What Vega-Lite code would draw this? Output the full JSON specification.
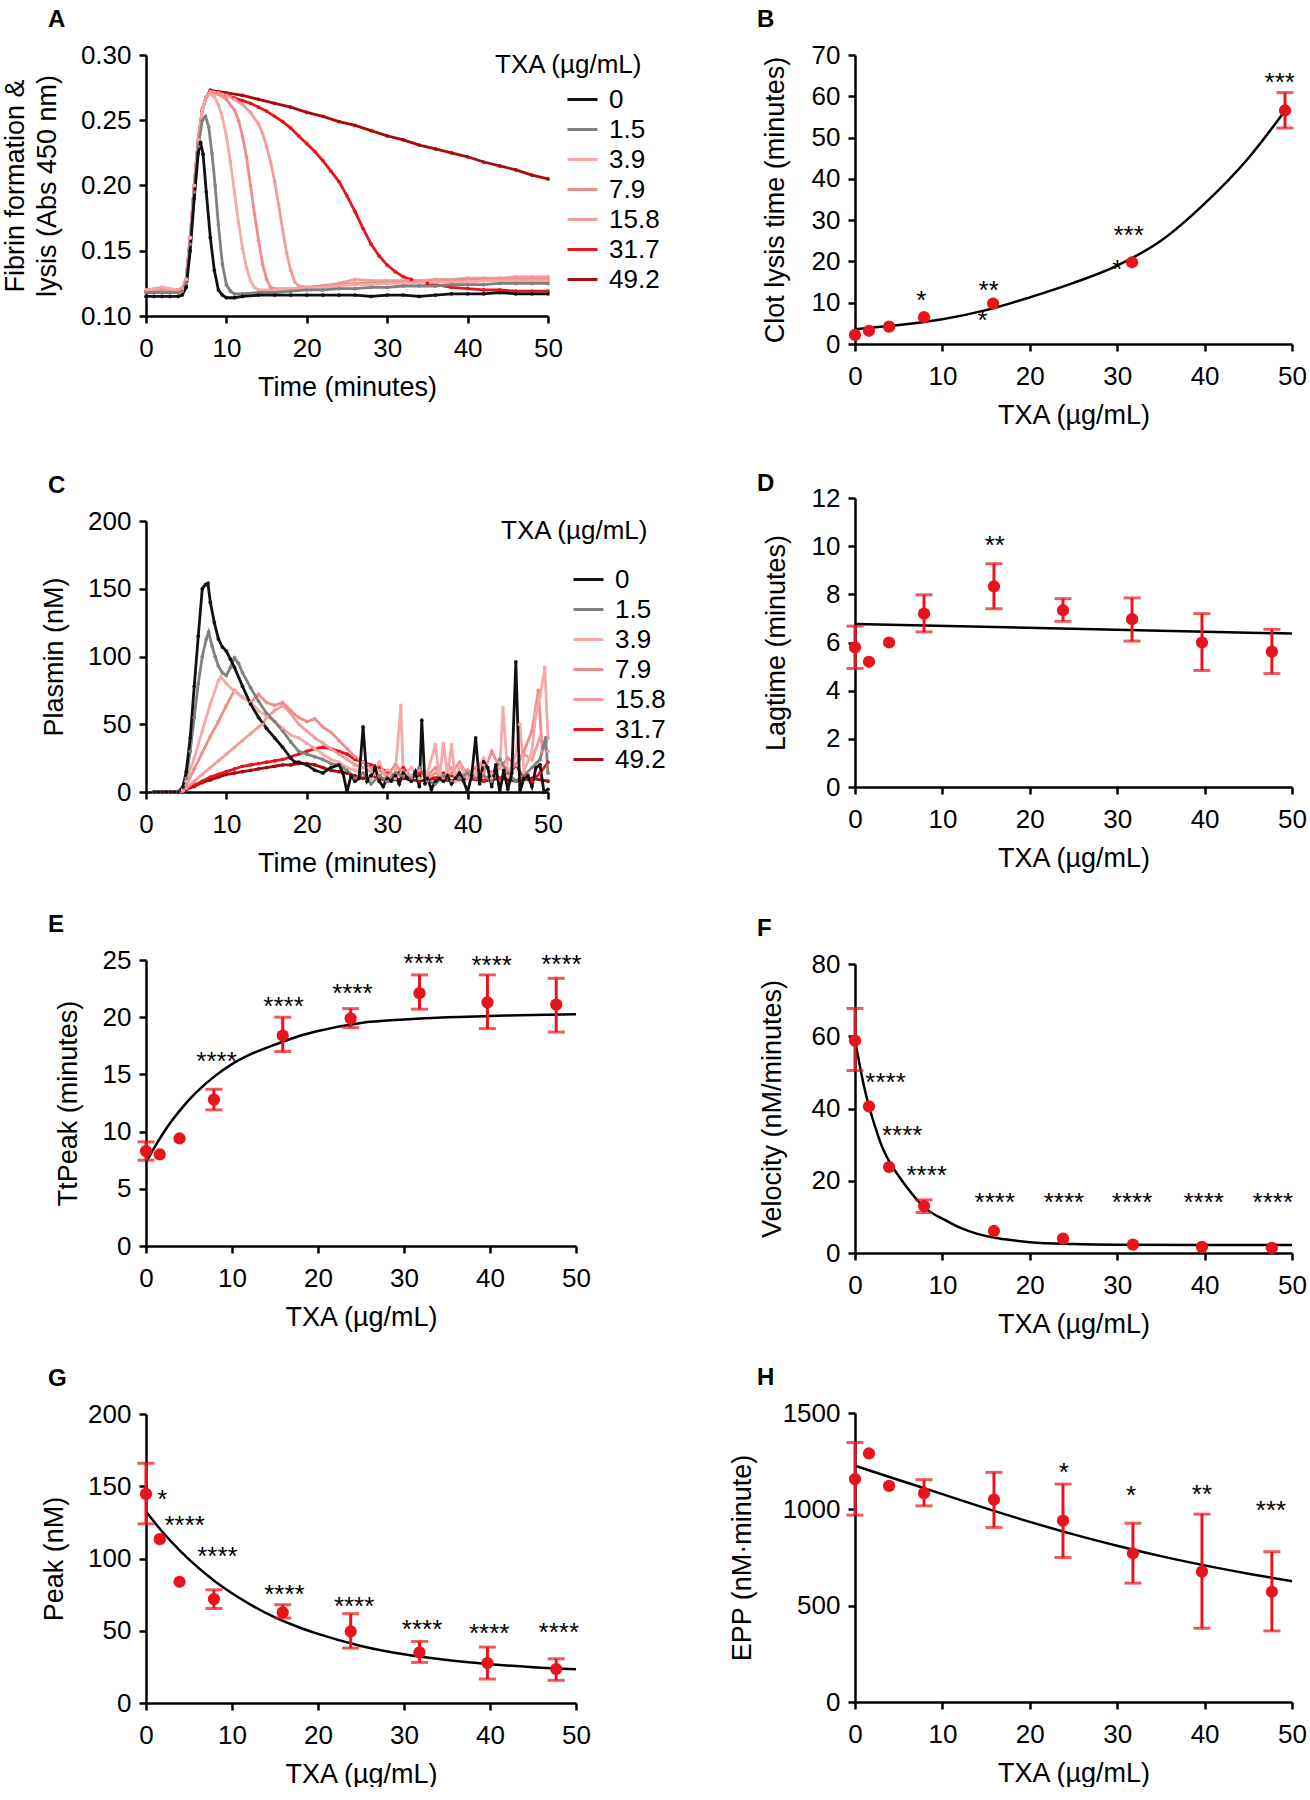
{
"$schema":"https://vega.github.io/schema/vega-lite/v6.json",
"background":"white",
"padding":{"left":1,"top":8,"right":0,"bottom":0},
"config":{
 "font":"Liberation Sans",
 "view":{"stroke":null},
 "axis":{"grid":false,"domainColor":"#000","domainWidth":2.5,"tickColor":"#000","tickWidth":2.5,"tickSize":7,"labelFont":"Liberation Sans","labelFontSize":26,"labelColor":"#000","titleFont":"Liberation Sans","titleFontSize":27,"titleFontWeight":"normal","titleColor":"#000","labelFlush":false,"labelOverlap":false,"labelBound":false},
 "axisX":{"labelPadding":12,"titleY":71,"titleBaseline":"middle"},
 "axisY":{"labelPadding":8,"titleBaseline":"middle"},
 "title":{"fontSize":24,"fontWeight":"bold","color":"#000","font":"Liberation Sans","anchor":"start","frame":"group","offset":10}
},
"datasets":{
"fibA":[
{"t":0,"v":0.119,"s":"49.2"},{"t":2,"v":0.12,"s":"49.2"},{"t":4,"v":0.12,"s":"49.2"},{"t":4.5,"v":0.121,"s":"49.2"},{"t":5,"v":0.128,"s":"49.2"},{"t":5.5,"v":0.16,"s":"49.2"},{"t":6,"v":0.2,"s":"49.2"},{"t":6.5,"v":0.235,"s":"49.2"},{"t":7,"v":0.258,"s":"49.2"},{"t":7.5,"v":0.268,"s":"49.2"},{"t":8,"v":0.273,"s":"49.2"},{"t":9,"v":0.272,"s":"49.2"},{"t":10,"v":0.271,"s":"49.2"},{"t":12,"v":0.269,"s":"49.2"},{"t":14,"v":0.266,"s":"49.2"},{"t":16,"v":0.263,"s":"49.2"},{"t":18,"v":0.26,"s":"49.2"},{"t":20,"v":0.256,"s":"49.2"},{"t":22,"v":0.253,"s":"49.2"},{"t":24,"v":0.249,"s":"49.2"},{"t":26,"v":0.246,"s":"49.2"},{"t":28,"v":0.242,"s":"49.2"},{"t":30,"v":0.238,"s":"49.2"},{"t":32,"v":0.235,"s":"49.2"},{"t":34,"v":0.231,"s":"49.2"},{"t":36,"v":0.228,"s":"49.2"},{"t":38,"v":0.225,"s":"49.2"},{"t":40,"v":0.222,"s":"49.2"},{"t":42,"v":0.218,"s":"49.2"},{"t":44,"v":0.215,"s":"49.2"},{"t":46,"v":0.212,"s":"49.2"},{"t":48,"v":0.208,"s":"49.2"},{"t":50,"v":0.205,"s":"49.2"},
{"t":0,"v":0.119,"s":"31.7"},{"t":2,"v":0.12,"s":"31.7"},{"t":4,"v":0.12,"s":"31.7"},{"t":4.5,"v":0.121,"s":"31.7"},{"t":5,"v":0.128,"s":"31.7"},{"t":5.5,"v":0.16,"s":"31.7"},{"t":6,"v":0.2,"s":"31.7"},{"t":6.5,"v":0.235,"s":"31.7"},{"t":7,"v":0.258,"s":"31.7"},{"t":7.5,"v":0.268,"s":"31.7"},{"t":8,"v":0.272,"s":"31.7"},{"t":9,"v":0.271,"s":"31.7"},{"t":10,"v":0.269,"s":"31.7"},{"t":11,"v":0.267,"s":"31.7"},{"t":12,"v":0.265,"s":"31.7"},{"t":13,"v":0.263,"s":"31.7"},{"t":14,"v":0.26,"s":"31.7"},{"t":15,"v":0.257,"s":"31.7"},{"t":16,"v":0.253,"s":"31.7"},{"t":17,"v":0.249,"s":"31.7"},{"t":18,"v":0.244,"s":"31.7"},{"t":19,"v":0.238,"s":"31.7"},{"t":20,"v":0.232,"s":"31.7"},{"t":21,"v":0.226,"s":"31.7"},{"t":22,"v":0.219,"s":"31.7"},{"t":23,"v":0.211,"s":"31.7"},{"t":24,"v":0.203,"s":"31.7"},{"t":25,"v":0.192,"s":"31.7"},{"t":26,"v":0.18,"s":"31.7"},{"t":27,"v":0.167,"s":"31.7"},{"t":28,"v":0.155,"s":"31.7"},{"t":29,"v":0.146,"s":"31.7"},{"t":30,"v":0.139,"s":"31.7"},{"t":31,"v":0.134,"s":"31.7"},{"t":32,"v":0.13,"s":"31.7"},{"t":33,"v":0.128,"s":"31.7"},{"t":34,"v":0.126,"s":"31.7"},{"t":35,"v":0.125,"s":"31.7"},{"t":36,"v":0.124,"s":"31.7"},{"t":38,"v":0.122,"s":"31.7"},{"t":40,"v":0.121,"s":"31.7"},{"t":42,"v":0.12,"s":"31.7"},{"t":44,"v":0.12,"s":"31.7"},{"t":46,"v":0.119,"s":"31.7"},{"t":48,"v":0.119,"s":"31.7"},{"t":50,"v":0.119,"s":"31.7"},
{"t":0,"v":0.119,"s":"15.8"},{"t":2,"v":0.12,"s":"15.8"},{"t":4,"v":0.12,"s":"15.8"},{"t":4.5,"v":0.121,"s":"15.8"},{"t":5,"v":0.128,"s":"15.8"},{"t":5.5,"v":0.16,"s":"15.8"},{"t":6,"v":0.2,"s":"15.8"},{"t":6.5,"v":0.235,"s":"15.8"},{"t":7,"v":0.258,"s":"15.8"},{"t":7.5,"v":0.268,"s":"15.8"},{"t":8,"v":0.272,"s":"15.8"},{"t":9,"v":0.271,"s":"15.8"},{"t":10,"v":0.269,"s":"15.8"},{"t":11,"v":0.266,"s":"15.8"},{"t":12,"v":0.262,"s":"15.8"},{"t":13,"v":0.256,"s":"15.8"},{"t":14,"v":0.247,"s":"15.8"},{"t":14.5,"v":0.24,"s":"15.8"},{"t":15,"v":0.23,"s":"15.8"},{"t":15.5,"v":0.218,"s":"15.8"},{"t":16,"v":0.203,"s":"15.8"},{"t":16.5,"v":0.185,"s":"15.8"},{"t":17,"v":0.166,"s":"15.8"},{"t":17.5,"v":0.148,"s":"15.8"},{"t":18,"v":0.135,"s":"15.8"},{"t":18.5,"v":0.126,"s":"15.8"},{"t":19,"v":0.123,"s":"15.8"},{"t":20,"v":0.122,"s":"15.8"},{"t":22,"v":0.123,"s":"15.8"},{"t":24,"v":0.125,"s":"15.8"},{"t":26,"v":0.128,"s":"15.8"},{"t":28,"v":0.127,"s":"15.8"},{"t":30,"v":0.127,"s":"15.8"},{"t":32,"v":0.127,"s":"15.8"},{"t":34,"v":0.127,"s":"15.8"},{"t":36,"v":0.128,"s":"15.8"},{"t":38,"v":0.128,"s":"15.8"},{"t":40,"v":0.129,"s":"15.8"},{"t":42,"v":0.129,"s":"15.8"},{"t":44,"v":0.129,"s":"15.8"},{"t":46,"v":0.13,"s":"15.8"},{"t":48,"v":0.13,"s":"15.8"},{"t":50,"v":0.13,"s":"15.8"},
{"t":0,"v":0.119,"s":"7.9"},{"t":2,"v":0.12,"s":"7.9"},{"t":4,"v":0.12,"s":"7.9"},{"t":4.5,"v":0.121,"s":"7.9"},{"t":5,"v":0.128,"s":"7.9"},{"t":5.5,"v":0.16,"s":"7.9"},{"t":6,"v":0.2,"s":"7.9"},{"t":6.5,"v":0.235,"s":"7.9"},{"t":7,"v":0.258,"s":"7.9"},{"t":7.5,"v":0.268,"s":"7.9"},{"t":8,"v":0.271,"s":"7.9"},{"t":9,"v":0.27,"s":"7.9"},{"t":10,"v":0.266,"s":"7.9"},{"t":11,"v":0.258,"s":"7.9"},{"t":11.5,"v":0.25,"s":"7.9"},{"t":12,"v":0.238,"s":"7.9"},{"t":12.5,"v":0.222,"s":"7.9"},{"t":13,"v":0.2,"s":"7.9"},{"t":13.5,"v":0.178,"s":"7.9"},{"t":14,"v":0.158,"s":"7.9"},{"t":14.5,"v":0.14,"s":"7.9"},{"t":15,"v":0.128,"s":"7.9"},{"t":15.5,"v":0.122,"s":"7.9"},{"t":16,"v":0.121,"s":"7.9"},{"t":18,"v":0.121,"s":"7.9"},{"t":20,"v":0.122,"s":"7.9"},{"t":22,"v":0.123,"s":"7.9"},{"t":24,"v":0.124,"s":"7.9"},{"t":26,"v":0.125,"s":"7.9"},{"t":28,"v":0.125,"s":"7.9"},{"t":30,"v":0.126,"s":"7.9"},{"t":32,"v":0.126,"s":"7.9"},{"t":34,"v":0.126,"s":"7.9"},{"t":36,"v":0.127,"s":"7.9"},{"t":38,"v":0.127,"s":"7.9"},{"t":40,"v":0.128,"s":"7.9"},{"t":42,"v":0.128,"s":"7.9"},{"t":44,"v":0.128,"s":"7.9"},{"t":46,"v":0.128,"s":"7.9"},{"t":48,"v":0.128,"s":"7.9"},{"t":50,"v":0.128,"s":"7.9"},
{"t":0,"v":0.12,"s":"3.9"},{"t":1,"v":0.121,"s":"3.9"},{"t":2,"v":0.122,"s":"3.9"},{"t":3,"v":0.121,"s":"3.9"},{"t":4,"v":0.12,"s":"3.9"},{"t":4.5,"v":0.121,"s":"3.9"},{"t":5,"v":0.128,"s":"3.9"},{"t":5.5,"v":0.16,"s":"3.9"},{"t":6,"v":0.2,"s":"3.9"},{"t":6.5,"v":0.235,"s":"3.9"},{"t":7,"v":0.258,"s":"3.9"},{"t":7.5,"v":0.268,"s":"3.9"},{"t":8,"v":0.27,"s":"3.9"},{"t":8.5,"v":0.268,"s":"3.9"},{"t":9,"v":0.262,"s":"3.9"},{"t":9.5,"v":0.252,"s":"3.9"},{"t":10,"v":0.238,"s":"3.9"},{"t":10.5,"v":0.218,"s":"3.9"},{"t":11,"v":0.195,"s":"3.9"},{"t":11.5,"v":0.172,"s":"3.9"},{"t":12,"v":0.152,"s":"3.9"},{"t":12.5,"v":0.137,"s":"3.9"},{"t":13,"v":0.127,"s":"3.9"},{"t":13.5,"v":0.122,"s":"3.9"},{"t":14,"v":0.12,"s":"3.9"},{"t":16,"v":0.12,"s":"3.9"},{"t":18,"v":0.121,"s":"3.9"},{"t":20,"v":0.121,"s":"3.9"},{"t":22,"v":0.122,"s":"3.9"},{"t":24,"v":0.123,"s":"3.9"},{"t":26,"v":0.124,"s":"3.9"},{"t":28,"v":0.124,"s":"3.9"},{"t":30,"v":0.125,"s":"3.9"},{"t":32,"v":0.125,"s":"3.9"},{"t":34,"v":0.125,"s":"3.9"},{"t":36,"v":0.126,"s":"3.9"},{"t":38,"v":0.126,"s":"3.9"},{"t":40,"v":0.126,"s":"3.9"},{"t":42,"v":0.127,"s":"3.9"},{"t":44,"v":0.127,"s":"3.9"},{"t":46,"v":0.127,"s":"3.9"},{"t":48,"v":0.127,"s":"3.9"},{"t":50,"v":0.127,"s":"3.9"},
{"t":0,"v":0.118,"s":"1.5"},{"t":1,"v":0.118,"s":"1.5"},{"t":2,"v":0.118,"s":"1.5"},{"t":3,"v":0.118,"s":"1.5"},{"t":4,"v":0.118,"s":"1.5"},{"t":4.5,"v":0.119,"s":"1.5"},{"t":5,"v":0.125,"s":"1.5"},{"t":5.5,"v":0.155,"s":"1.5"},{"t":6,"v":0.195,"s":"1.5"},{"t":6.5,"v":0.23,"s":"1.5"},{"t":7,"v":0.25,"s":"1.5"},{"t":7.4,"v":0.253,"s":"1.5"},{"t":7.8,"v":0.245,"s":"1.5"},{"t":8.2,"v":0.225,"s":"1.5"},{"t":8.6,"v":0.2,"s":"1.5"},{"t":9,"v":0.17,"s":"1.5"},{"t":9.5,"v":0.14,"s":"1.5"},{"t":10,"v":0.124,"s":"1.5"},{"t":10.5,"v":0.119,"s":"1.5"},{"t":11,"v":0.117,"s":"1.5"},{"t":12,"v":0.117,"s":"1.5"},{"t":14,"v":0.118,"s":"1.5"},{"t":16,"v":0.118,"s":"1.5"},{"t":18,"v":0.119,"s":"1.5"},{"t":20,"v":0.12,"s":"1.5"},{"t":22,"v":0.12,"s":"1.5"},{"t":24,"v":0.121,"s":"1.5"},{"t":26,"v":0.121,"s":"1.5"},{"t":28,"v":0.122,"s":"1.5"},{"t":30,"v":0.122,"s":"1.5"},{"t":32,"v":0.123,"s":"1.5"},{"t":34,"v":0.123,"s":"1.5"},{"t":36,"v":0.123,"s":"1.5"},{"t":38,"v":0.124,"s":"1.5"},{"t":40,"v":0.124,"s":"1.5"},{"t":42,"v":0.124,"s":"1.5"},{"t":44,"v":0.125,"s":"1.5"},{"t":46,"v":0.125,"s":"1.5"},{"t":48,"v":0.125,"s":"1.5"},{"t":50,"v":0.125,"s":"1.5"},
{"t":0,"v":0.115,"s":"0"},{"t":1,"v":0.115,"s":"0"},{"t":2,"v":0.115,"s":"0"},{"t":3,"v":0.115,"s":"0"},{"t":4,"v":0.115,"s":"0"},{"t":4.5,"v":0.116,"s":"0"},{"t":5,"v":0.122,"s":"0"},{"t":5.5,"v":0.15,"s":"0"},{"t":6,"v":0.19,"s":"0"},{"t":6.5,"v":0.225,"s":"0"},{"t":6.8,"v":0.233,"s":"0"},{"t":7.1,"v":0.224,"s":"0"},{"t":7.5,"v":0.195,"s":"0"},{"t":8,"v":0.16,"s":"0"},{"t":8.5,"v":0.135,"s":"0"},{"t":9,"v":0.12,"s":"0"},{"t":9.5,"v":0.116,"s":"0"},{"t":10,"v":0.114,"s":"0"},{"t":11,"v":0.114,"s":"0"},{"t":12,"v":0.115,"s":"0"},{"t":14,"v":0.116,"s":"0"},{"t":16,"v":0.116,"s":"0"},{"t":18,"v":0.116,"s":"0"},{"t":20,"v":0.116,"s":"0"},{"t":22,"v":0.116,"s":"0"},{"t":24,"v":0.116,"s":"0"},{"t":26,"v":0.116,"s":"0"},{"t":28,"v":0.115,"s":"0"},{"t":30,"v":0.116,"s":"0"},{"t":32,"v":0.116,"s":"0"},{"t":34,"v":0.115,"s":"0"},{"t":36,"v":0.116,"s":"0"},{"t":38,"v":0.117,"s":"0"},{"t":40,"v":0.117,"s":"0"},{"t":42,"v":0.117,"s":"0"},{"t":44,"v":0.118,"s":"0"},{"t":46,"v":0.117,"s":"0"},{"t":48,"v":0.117,"s":"0"},{"t":50,"v":0.117,"s":"0"}
],
"plasC":[
{"t":1,"p":0,"s":"49.2"},{"t":2,"p":0,"s":"49.2"},{"t":3,"p":0,"s":"49.2"},{"t":4,"p":0,"s":"49.2"},{"t":4.6,"p":1,"s":"49.2"},{"t":5,"p":2,"s":"49.2"},{"t":6,"p":4,"s":"49.2"},{"t":7,"p":7,"s":"49.2"},{"t":8,"p":9,"s":"49.2"},{"t":9,"p":11,"s":"49.2"},{"t":10,"p":13,"s":"49.2"},{"t":11,"p":14,"s":"49.2"},{"t":12,"p":15,"s":"49.2"},{"t":13,"p":16,"s":"49.2"},{"t":14,"p":17,"s":"49.2"},{"t":15,"p":18,"s":"49.2"},{"t":16,"p":19,"s":"49.2"},{"t":17,"p":20,"s":"49.2"},{"t":18,"p":20,"s":"49.2"},{"t":19,"p":21,"s":"49.2"},{"t":20,"p":21,"s":"49.2"},{"t":21,"p":20,"s":"49.2"},{"t":22,"p":18,"s":"49.2"},{"t":23,"p":16,"s":"49.2"},{"t":24,"p":15,"s":"49.2"},{"t":25,"p":14,"s":"49.2"},{"t":26,"p":12,"s":"49.2"},{"t":27,"p":10,"s":"49.2"},{"t":28,"p":12,"s":"49.2"},{"t":29,"p":10,"s":"49.2"},{"t":30,"p":8,"s":"49.2"},{"t":32,"p":10,"s":"49.2"},{"t":34,"p":8,"s":"49.2"},{"t":36,"p":10,"s":"49.2"},{"t":38,"p":8,"s":"49.2"},{"t":40,"p":10,"s":"49.2"},{"t":42,"p":8,"s":"49.2"},{"t":44,"p":10,"s":"49.2"},{"t":46,"p":8,"s":"49.2"},{"t":48,"p":10,"s":"49.2"},{"t":50,"p":8,"s":"49.2"},
{"t":1,"p":0,"s":"31.7"},{"t":2,"p":0,"s":"31.7"},{"t":3,"p":0,"s":"31.7"},{"t":4,"p":0,"s":"31.7"},{"t":4.6,"p":1,"s":"31.7"},{"t":5,"p":2,"s":"31.7"},{"t":6,"p":5,"s":"31.7"},{"t":7,"p":8,"s":"31.7"},{"t":8,"p":11,"s":"31.7"},{"t":9,"p":13,"s":"31.7"},{"t":10,"p":15,"s":"31.7"},{"t":11,"p":17,"s":"31.7"},{"t":12,"p":19,"s":"31.7"},{"t":13,"p":20,"s":"31.7"},{"t":14,"p":21,"s":"31.7"},{"t":15,"p":22,"s":"31.7"},{"t":16,"p":23,"s":"31.7"},{"t":17,"p":24,"s":"31.7"},{"t":18,"p":26,"s":"31.7"},{"t":19,"p":28,"s":"31.7"},{"t":20,"p":30,"s":"31.7"},{"t":21,"p":32,"s":"31.7"},{"t":22,"p":33,"s":"31.7"},{"t":23,"p":32,"s":"31.7"},{"t":24,"p":30,"s":"31.7"},{"t":25,"p":28,"s":"31.7"},{"t":26,"p":24,"s":"31.7"},{"t":27,"p":22,"s":"31.7"},{"t":28,"p":20,"s":"31.7"},{"t":29,"p":18,"s":"31.7"},{"t":30,"p":15,"s":"31.7"},{"t":31,"p":12,"s":"31.7"},{"t":32,"p":18,"s":"31.7"},{"t":33,"p":10,"s":"31.7"},{"t":34,"p":14,"s":"31.7"},{"t":35,"p":12,"s":"31.7"},{"t":36,"p":10,"s":"31.7"},{"t":37,"p":14,"s":"31.7"},{"t":38,"p":12,"s":"31.7"},{"t":39,"p":10,"s":"31.7"},{"t":40,"p":16,"s":"31.7"},{"t":41,"p":12,"s":"31.7"},{"t":42,"p":8,"s":"31.7"},{"t":43,"p":14,"s":"31.7"},{"t":44,"p":10,"s":"31.7"},{"t":45,"p":12,"s":"31.7"},{"t":46,"p":20,"s":"31.7"},{"t":47,"p":10,"s":"31.7"},{"t":48,"p":8,"s":"31.7"},{"t":49,"p":14,"s":"31.7"},{"t":50,"p":22,"s":"31.7"},
{"t":1,"p":0,"s":"15.8"},{"t":2,"p":0,"s":"15.8"},{"t":3,"p":0,"s":"15.8"},{"t":4,"p":0,"s":"15.8"},{"t":4.6,"p":1,"s":"15.8"},{"t":5,"p":3,"s":"15.8"},{"t":6,"p":8,"s":"15.8"},{"t":7,"p":13,"s":"15.8"},{"t":8,"p":18,"s":"15.8"},{"t":9,"p":23,"s":"15.8"},{"t":10,"p":28,"s":"15.8"},{"t":11,"p":33,"s":"15.8"},{"t":12,"p":38,"s":"15.8"},{"t":13,"p":43,"s":"15.8"},{"t":14,"p":48,"s":"15.8"},{"t":14.5,"p":50,"s":"15.8"},{"t":15,"p":55,"s":"15.8"},{"t":16,"p":60,"s":"15.8"},{"t":17,"p":64,"s":"15.8"},{"t":18,"p":58,"s":"15.8"},{"t":19,"p":50,"s":"15.8"},{"t":20,"p":45,"s":"15.8"},{"t":21,"p":40,"s":"15.8"},{"t":22,"p":36,"s":"15.8"},{"t":23,"p":32,"s":"15.8"},{"t":24,"p":28,"s":"15.8"},{"t":25,"p":24,"s":"15.8"},{"t":26,"p":20,"s":"15.8"},{"t":27,"p":18,"s":"15.8"},{"t":28,"p":15,"s":"15.8"},{"t":29,"p":12,"s":"15.8"},{"t":30,"p":16,"s":"15.8"},{"t":31,"p":10,"s":"15.8"},{"t":32,"p":14,"s":"15.8"},{"t":33,"p":12,"s":"15.8"},{"t":34,"p":16,"s":"15.8"},{"t":35,"p":10,"s":"15.8"},{"t":36,"p":14,"s":"15.8"},{"t":37,"p":12,"s":"15.8"},{"t":38,"p":18,"s":"15.8"},{"t":39,"p":10,"s":"15.8"},{"t":40,"p":16,"s":"15.8"},{"t":41,"p":12,"s":"15.8"},{"t":42,"p":20,"s":"15.8"},{"t":43,"p":14,"s":"15.8"},{"t":44,"p":22,"s":"15.8"},{"t":45,"p":16,"s":"15.8"},{"t":46,"p":20,"s":"15.8"},{"t":47,"p":28,"s":"15.8"},{"t":48,"p":24,"s":"15.8"},{"t":49,"p":40,"s":"15.8"},{"t":50,"p":30,"s":"15.8"},
{"t":1,"p":0,"s":"7.9"},{"t":2,"p":0,"s":"7.9"},{"t":3,"p":0,"s":"7.9"},{"t":4,"p":0,"s":"7.9"},{"t":4.6,"p":1,"s":"7.9"},{"t":5,"p":5,"s":"7.9"},{"t":6,"p":17,"s":"7.9"},{"t":7,"p":29,"s":"7.9"},{"t":8,"p":41,"s":"7.9"},{"t":9,"p":52,"s":"7.9"},{"t":10,"p":64,"s":"7.9"},{"t":11,"p":75,"s":"7.9"},{"t":12,"p":70,"s":"7.9"},{"t":13,"p":66,"s":"7.9"},{"t":14,"p":72,"s":"7.9"},{"t":15,"p":66,"s":"7.9"},{"t":16,"p":64,"s":"7.9"},{"t":17,"p":66,"s":"7.9"},{"t":18,"p":60,"s":"7.9"},{"t":19,"p":55,"s":"7.9"},{"t":20,"p":52,"s":"7.9"},{"t":21,"p":54,"s":"7.9"},{"t":22,"p":48,"s":"7.9"},{"t":23,"p":44,"s":"7.9"},{"t":24,"p":38,"s":"7.9"},{"t":25,"p":32,"s":"7.9"},{"t":26,"p":26,"s":"7.9"},{"t":27,"p":22,"s":"7.9"},{"t":28,"p":18,"s":"7.9"},{"t":29,"p":16,"s":"7.9"},{"t":30,"p":12,"s":"7.9"},{"t":31,"p":20,"s":"7.9"},{"t":32,"p":14,"s":"7.9"},{"t":33,"p":10,"s":"7.9"},{"t":34,"p":16,"s":"7.9"},{"t":35,"p":12,"s":"7.9"},{"t":36,"p":18,"s":"7.9"},{"t":37,"p":10,"s":"7.9"},{"t":38,"p":14,"s":"7.9"},{"t":39,"p":22,"s":"7.9"},{"t":40,"p":12,"s":"7.9"},{"t":41,"p":18,"s":"7.9"},{"t":42,"p":14,"s":"7.9"},{"t":43,"p":30,"s":"7.9"},{"t":44,"p":18,"s":"7.9"},{"t":45,"p":25,"s":"7.9"},{"t":46,"p":20,"s":"7.9"},{"t":47,"p":30,"s":"7.9"},{"t":48,"p":45,"s":"7.9"},{"t":48.8,"p":75,"s":"7.9"},{"t":49.3,"p":30,"s":"7.9"},{"t":50,"p":40,"s":"7.9"},
{"t":1,"p":0,"s":"3.9"},{"t":2,"p":0,"s":"3.9"},{"t":3,"p":0,"s":"3.9"},{"t":4,"p":0,"s":"3.9"},{"t":4.6,"p":2,"s":"3.9"},{"t":5,"p":8,"s":"3.9"},{"t":6,"p":25,"s":"3.9"},{"t":7,"p":45,"s":"3.9"},{"t":8,"p":65,"s":"3.9"},{"t":9,"p":82,"s":"3.9"},{"t":9.3,"p":85,"s":"3.9"},{"t":10,"p":80,"s":"3.9"},{"t":11,"p":74,"s":"3.9"},{"t":12,"p":70,"s":"3.9"},{"t":13,"p":66,"s":"3.9"},{"t":14,"p":60,"s":"3.9"},{"t":15,"p":56,"s":"3.9"},{"t":16,"p":52,"s":"3.9"},{"t":17,"p":47,"s":"3.9"},{"t":18,"p":42,"s":"3.9"},{"t":19,"p":40,"s":"3.9"},{"t":20,"p":36,"s":"3.9"},{"t":21,"p":32,"s":"3.9"},{"t":22,"p":28,"s":"3.9"},{"t":23,"p":24,"s":"3.9"},{"t":24,"p":22,"s":"3.9"},{"t":25,"p":18,"s":"3.9"},{"t":26,"p":16,"s":"3.9"},{"t":27,"p":14,"s":"3.9"},{"t":28,"p":10,"s":"3.9"},{"t":29,"p":22,"s":"3.9"},{"t":30,"p":8,"s":"3.9"},{"t":31,"p":14,"s":"3.9"},{"t":31.7,"p":64,"s":"3.9"},{"t":32,"p":12,"s":"3.9"},{"t":33,"p":18,"s":"3.9"},{"t":34,"p":10,"s":"3.9"},{"t":35,"p":14,"s":"3.9"},{"t":36,"p":35,"s":"3.9"},{"t":36.5,"p":10,"s":"3.9"},{"t":37,"p":36,"s":"3.9"},{"t":37.5,"p":12,"s":"3.9"},{"t":38,"p":35,"s":"3.9"},{"t":38.5,"p":8,"s":"3.9"},{"t":39,"p":20,"s":"3.9"},{"t":40,"p":10,"s":"3.9"},{"t":41,"p":14,"s":"3.9"},{"t":42,"p":25,"s":"3.9"},{"t":43,"p":10,"s":"3.9"},{"t":44,"p":18,"s":"3.9"},{"t":44.4,"p":62,"s":"3.9"},{"t":45,"p":12,"s":"3.9"},{"t":46,"p":28,"s":"3.9"},{"t":46.5,"p":50,"s":"3.9"},{"t":47,"p":15,"s":"3.9"},{"t":48,"p":30,"s":"3.9"},{"t":48.5,"p":58,"s":"3.9"},{"t":49,"p":70,"s":"3.9"},{"t":49.6,"p":92,"s":"3.9"},{"t":50,"p":40,"s":"3.9"},
{"t":1,"p":0,"s":"1.5"},{"t":2,"p":0,"s":"1.5"},{"t":3,"p":0,"s":"1.5"},{"t":4,"p":0,"s":"1.5"},{"t":4.6,"p":3,"s":"1.5"},{"t":5,"p":10,"s":"1.5"},{"t":5.5,"p":30,"s":"1.5"},{"t":6,"p":55,"s":"1.5"},{"t":6.5,"p":80,"s":"1.5"},{"t":7,"p":100,"s":"1.5"},{"t":7.5,"p":113,"s":"1.5"},{"t":7.8,"p":118,"s":"1.5"},{"t":8.2,"p":108,"s":"1.5"},{"t":8.6,"p":100,"s":"1.5"},{"t":9,"p":93,"s":"1.5"},{"t":9.5,"p":88,"s":"1.5"},{"t":10,"p":86,"s":"1.5"},{"t":10.5,"p":92,"s":"1.5"},{"t":11,"p":99,"s":"1.5"},{"t":11.5,"p":95,"s":"1.5"},{"t":12,"p":88,"s":"1.5"},{"t":13,"p":77,"s":"1.5"},{"t":14,"p":67,"s":"1.5"},{"t":15,"p":58,"s":"1.5"},{"t":16,"p":52,"s":"1.5"},{"t":17,"p":45,"s":"1.5"},{"t":18,"p":37,"s":"1.5"},{"t":19,"p":30,"s":"1.5"},{"t":20,"p":28,"s":"1.5"},{"t":21,"p":26,"s":"1.5"},{"t":22,"p":24,"s":"1.5"},{"t":23,"p":21,"s":"1.5"},{"t":24,"p":20,"s":"1.5"},{"t":25,"p":16,"s":"1.5"},{"t":26,"p":10,"s":"1.5"},{"t":27,"p":14,"s":"1.5"},{"t":28,"p":6,"s":"1.5"},{"t":29,"p":12,"s":"1.5"},{"t":30,"p":8,"s":"1.5"},{"t":31,"p":14,"s":"1.5"},{"t":32,"p":12,"s":"1.5"},{"t":33,"p":10,"s":"1.5"},{"t":34,"p":18,"s":"1.5"},{"t":35,"p":8,"s":"1.5"},{"t":36,"p":6,"s":"1.5"},{"t":37,"p":12,"s":"1.5"},{"t":38,"p":8,"s":"1.5"},{"t":39,"p":10,"s":"1.5"},{"t":40,"p":14,"s":"1.5"},{"t":41,"p":10,"s":"1.5"},{"t":42,"p":12,"s":"1.5"},{"t":43,"p":8,"s":"1.5"},{"t":44,"p":24,"s":"1.5"},{"t":45,"p":14,"s":"1.5"},{"t":46,"p":8,"s":"1.5"},{"t":47,"p":12,"s":"1.5"},{"t":48,"p":18,"s":"1.5"},{"t":49,"p":24,"s":"1.5"},{"t":49.7,"p":40,"s":"1.5"},{"t":50,"p":14,"s":"1.5"},
{"t":1,"p":0,"s":"0"},{"t":2,"p":0,"s":"0"},{"t":3,"p":0,"s":"0"},{"t":4,"p":0,"s":"0"},{"t":4.6,"p":4,"s":"0"},{"t":5,"p":15,"s":"0"},{"t":5.5,"p":40,"s":"0"},{"t":6,"p":78,"s":"0"},{"t":6.5,"p":115,"s":"0"},{"t":7,"p":150,"s":"0"},{"t":7.4,"p":153,"s":"0"},{"t":7.7,"p":154,"s":"0"},{"t":8,"p":140,"s":"0"},{"t":8.5,"p":125,"s":"0"},{"t":9,"p":113,"s":"0"},{"t":9.5,"p":107,"s":"0"},{"t":10,"p":104,"s":"0"},{"t":10.5,"p":98,"s":"0"},{"t":11,"p":92,"s":"0"},{"t":12,"p":78,"s":"0"},{"t":13,"p":65,"s":"0"},{"t":14,"p":55,"s":"0"},{"t":15,"p":47,"s":"0"},{"t":16,"p":40,"s":"0"},{"t":17,"p":33,"s":"0"},{"t":18,"p":25,"s":"0"},{"t":18.5,"p":22,"s":"0"},{"t":19,"p":22,"s":"0"},{"t":20,"p":20,"s":"0"},{"t":21,"p":16,"s":"0"},{"t":22,"p":14,"s":"0"},{"t":23,"p":18,"s":"0"},{"t":24,"p":20,"s":"0"},{"t":24.5,"p":14,"s":"0"},{"t":25,"p":0,"s":"0"},{"t":25.5,"p":12,"s":"0"},{"t":26,"p":8,"s":"0"},{"t":26.5,"p":10,"s":"0"},{"t":27,"p":48,"s":"0"},{"t":27.5,"p":8,"s":"0"},{"t":28,"p":12,"s":"0"},{"t":28.5,"p":18,"s":"0"},{"t":29,"p":8,"s":"0"},{"t":29.5,"p":4,"s":"0"},{"t":30,"p":10,"s":"0"},{"t":30.5,"p":8,"s":"0"},{"t":31,"p":12,"s":"0"},{"t":31.5,"p":6,"s":"0"},{"t":32,"p":14,"s":"0"},{"t":32.5,"p":10,"s":"0"},{"t":33,"p":8,"s":"0"},{"t":33.5,"p":15,"s":"0"},{"t":34,"p":4,"s":"0"},{"t":34.3,"p":53,"s":"0"},{"t":34.7,"p":6,"s":"0"},{"t":35,"p":10,"s":"0"},{"t":35.5,"p":2,"s":"0"},{"t":36,"p":8,"s":"0"},{"t":36.5,"p":10,"s":"0"},{"t":37,"p":8,"s":"0"},{"t":37.5,"p":12,"s":"0"},{"t":38,"p":6,"s":"0"},{"t":38.5,"p":10,"s":"0"},{"t":39,"p":14,"s":"0"},{"t":39.5,"p":8,"s":"0"},{"t":40,"p":0,"s":"0"},{"t":40.5,"p":12,"s":"0"},{"t":41,"p":40,"s":"0"},{"t":41.5,"p":6,"s":"0"},{"t":42,"p":22,"s":"0"},{"t":42.5,"p":18,"s":"0"},{"t":43,"p":4,"s":"0"},{"t":43.5,"p":20,"s":"0"},{"t":44,"p":0,"s":"0"},{"t":44.5,"p":16,"s":"0"},{"t":45,"p":2,"s":"0"},{"t":45.5,"p":14,"s":"0"},{"t":46,"p":96,"s":"0"},{"t":46.5,"p":0,"s":"0"},{"t":47,"p":10,"s":"0"},{"t":47.5,"p":12,"s":"0"},{"t":48,"p":4,"s":"0"},{"t":48.5,"p":18,"s":"0"},{"t":49,"p":20,"s":"0"},{"t":49.5,"p":0,"s":"0"},{"t":50,"p":2,"s":"0"}
],
"curveB":[{"x":0,"y":3.6},{"x":5,"y":4.6},{"x":10,"y":6},{"x":15,"y":8.2},{"x":20,"y":11.3},{"x":25,"y":14.8},{"x":30,"y":19},{"x":35,"y":25},{"x":40,"y":34},{"x":45,"y":45},{"x":49.2,"y":56.5}],
"ptsB":[{"x":0,"y":2.2},{"x":1.6,"y":3.2},{"x":3.9,"y":4.2},{"x":7.9,"y":6.5},{"x":15.8,"y":9.8},{"x":31.7,"y":19.8},{"x":49.2,"y":56.6,"lo":52.3,"hi":60.9}],
"starsB":[{"x":7.6,"y":12.1,"t":"*"},{"x":15.3,"y":14.5,"t":"**"},{"x":14.6,"y":7.3,"t":"*"},{"x":31.3,"y":27.8,"t":"***"},{"x":30,"y":19.6,"t":"*"},{"x":48.6,"y":64.8,"t":"***"}],
"curveD":[{"x":0,"y":6.77},{"x":50,"y":6.37}],
"ptsD":[{"x":0,"y":5.8,"lo":4.92,"hi":6.68},{"x":1.6,"y":5.2},{"x":3.9,"y":6.0},{"x":7.9,"y":7.2,"lo":6.44,"hi":7.98},{"x":15.9,"y":8.33,"lo":7.4,"hi":9.27},{"x":23.8,"y":7.34,"lo":6.88,"hi":7.82},{"x":31.7,"y":6.97,"lo":6.06,"hi":7.85},{"x":39.7,"y":6.0,"lo":4.84,"hi":7.2},{"x":47.7,"y":5.62,"lo":4.71,"hi":6.55}],
"starsD":[{"x":16,"y":10.3,"t":"**"}],
"curveE":[{"x":0,"y":7.3},{"x":1,"y":8.65},{"x":2,"y":9.86},{"x":3,"y":10.94},{"x":4,"y":11.9},{"x":5,"y":12.77},{"x":6,"y":13.54},{"x":8,"y":14.85},{"x":10,"y":15.9},{"x":12,"y":16.7},{"x":15,"y":17.6},{"x":18,"y":18.4},{"x":20,"y":18.8},{"x":25,"y":19.5},{"x":30,"y":19.8},{"x":35,"y":20.0},{"x":40,"y":20.1},{"x":45,"y":20.2},{"x":50,"y":20.25}],
"ptsE":[{"x":0,"y":8.3,"lo":7.5,"hi":9.1},{"x":1.6,"y":8.0},{"x":3.9,"y":9.4},{"x":7.9,"y":12.8,"lo":11.9,"hi":13.7},{"x":15.9,"y":18.4,"lo":17.0,"hi":20.0},{"x":23.8,"y":19.9,"lo":19.1,"hi":20.75},{"x":31.8,"y":22.1,"lo":20.7,"hi":23.7},{"x":39.7,"y":21.3,"lo":19.0,"hi":23.7},{"x":47.7,"y":21.1,"lo":18.7,"hi":23.4}],
"starsE":[{"x":8.2,"y":16.7,"t":"****"},{"x":16,"y":21.5,"t":"****"},{"x":24,"y":22.6,"t":"****"},{"x":32.3,"y":25.3,"t":"****"},{"x":40.2,"y":25.1,"t":"****"},{"x":48.3,"y":25.2,"t":"****"}],
"curveF":[{"x":0,"y":59},{"x":0.5,"y":52.5},{"x":1,"y":46.5},{"x":1.5,"y":41.5},{"x":2,"y":37.3},{"x":2.5,"y":33.5},{"x":3,"y":30},{"x":4,"y":25},{"x":5,"y":21.3},{"x":6,"y":18},{"x":7,"y":15},{"x":8,"y":12.4},{"x":9,"y":10.8},{"x":10,"y":9.5},{"x":12,"y":7.0},{"x":14,"y":5.3},{"x":16,"y":4.2},{"x":18,"y":3.5},{"x":20,"y":3.0},{"x":25,"y":2.5},{"x":30,"y":2.3},{"x":40,"y":2.2},{"x":50,"y":2.2}],
"ptsF":[{"x":0,"y":58.8,"lo":50.5,"hi":67.7},{"x":1.6,"y":40.6},{"x":3.9,"y":23.8},{"x":7.9,"y":13.0,"lo":11.2,"hi":14.7},{"x":15.9,"y":6.1},{"x":23.8,"y":4.0},{"x":31.8,"y":2.3},{"x":39.7,"y":1.7},{"x":47.7,"y":1.4}],
"starsF":[{"x":3.5,"y":49.1,"t":"****"},{"x":5.4,"y":34.4,"t":"****"},{"x":8.2,"y":23.3,"t":"****"},{"x":16,"y":15.7,"t":"****"},{"x":23.9,"y":15.7,"t":"****"},{"x":31.7,"y":15.7,"t":"****"},{"x":39.9,"y":15.7,"t":"****"},{"x":47.8,"y":15.7,"t":"****"}],
"curveG":[{"x":0,"y":132.5},{"x":2,"y":117.8},{"x":4,"y":105.1},{"x":6,"y":94.0},{"x":8,"y":84.3},{"x":10,"y":75.9},{"x":12,"y":68.6},{"x":15,"y":59.2},{"x":18,"y":51.9},{"x":20,"y":47.8},{"x":25,"y":39.5},{"x":30,"y":33.7},{"x":35,"y":29.7},{"x":40,"y":26.9},{"x":45,"y":24.8},{"x":50,"y":23.4}],
"ptsG":[{"x":0,"y":144.7,"lo":124,"hi":165.9},{"x":1.6,"y":113.4},{"x":3.9,"y":83.9},{"x":7.9,"y":71.9,"lo":65.4,"hi":78.3},{"x":15.9,"y":62.7,"lo":58.8,"hi":68},{"x":23.8,"y":49.5,"lo":38,"hi":61.8},{"x":31.8,"y":35,"lo":28.1,"hi":42.6},{"x":39.7,"y":27.6,"lo":16.6,"hi":38.7},{"x":47.7,"y":23.5,"lo":15.7,"hi":30.6}],
"starsG":[{"x":1.9,"y":145,"t":"*"},{"x":4.5,"y":127.4,"t":"****"},{"x":8.3,"y":106,"t":"****"},{"x":16.1,"y":79.5,"t":"****"},{"x":24.2,"y":71,"t":"****"},{"x":32.1,"y":55.3,"t":"****"},{"x":39.9,"y":52.3,"t":"****"},{"x":48,"y":53,"t":"****"}],
"curveH":[{"x":0,"y":1226},{"x":5,"y":1152},{"x":10,"y":1079},{"x":15,"y":1005},{"x":20,"y":935},{"x":25,"y":870},{"x":30,"y":811},{"x":35,"y":757},{"x":40,"y":709},{"x":45,"y":666},{"x":50,"y":627}],
"ptsH":[{"x":0,"y":1157,"lo":970,"hi":1347},{"x":1.6,"y":1290},{"x":3.9,"y":1122},{"x":7.9,"y":1084,"lo":1018,"hi":1154},{"x":15.9,"y":1050,"lo":906,"hi":1192},{"x":23.8,"y":941,"lo":750,"hi":1131},{"x":31.8,"y":772,"lo":617,"hi":928},{"x":39.7,"y":677,"lo":383,"hi":975},{"x":47.7,"y":572,"lo":369,"hi":780}],
"starsH":[{"x":23.9,"y":1226,"t":"*"},{"x":31.6,"y":1105,"t":"*"},{"x":39.7,"y":1109,"t":"**"},{"x":47.6,"y":1027,"t":"***"}]
},
"bounds":"flush",
"spacing":709,
"resolve":{"scale":{"color":"independent"},"legend":{"color":"independent"}},
"hconcat":[
{"bounds":"flush","spacing":205,
 "resolve":{"scale":{"color":"independent"},"legend":{"color":"independent"}},
 "vconcat":[
 {"width":402,"height":261,
  "title":{"text":"A","dx":-98},
  "data":{"name":"fibA"},
  "mark":{"type":"line","strokeWidth":2.8,"point":{"filled":true,"size":14,"opacity":1}},
  "encoding":{
   "x":{"field":"t","type":"quantitative","scale":{"domain":[0,50],"nice":false},"axis":{"values":[0,10,20,30,40,50],"title":"Time (minutes)"}},
   "y":{"field":"v","type":"quantitative","scale":{"domain":[0.1,0.3],"nice":false,"zero":false},"axis":{"values":[0.1,0.15,0.2,0.25,0.3],"format":".2f","title":["Fibrin formation &","lysis (Abs 450 nm)"],"titleX":-131,"titleLineHeight":32}},
   "color":{"field":"s","type":"nominal","scale":{"domain":["0","1.5","3.9","7.9","15.8","31.7","49.2"],"range":["#111111","#808080","#f5aaa9","#f08c8b","#f29d9c","#e8141b","#a30d0d"]},
     "legend":{"orient":"none","legendX":349,"legendY":-3,"title":"TXA (µg/mL)","titleFont":"Liberation Sans","titleFontSize":26,"titleFontWeight":"normal","titleColor":"#000","titlePadding":5,"labelFont":"Liberation Sans","labelFontSize":26,"labelColor":"#000","symbolType":"stroke","symbolSize":900,"symbolStrokeWidth":3,"symbolOffset":71,"labelOffset":10,"rowPadding":0,"padding":0}}
  }
 },
 {"bounds":"flush","spacing":168,
  "vconcat":[
  {"width":402,"height":271,
   "title":{"text":"C","dx":-98},
   "data":{"name":"plasC"},
   "mark":{"type":"line","strokeWidth":2.8,"point":{"filled":true,"size":14,"opacity":1}},
   "encoding":{
    "x":{"field":"t","type":"quantitative","scale":{"domain":[0,50],"nice":false},"axis":{"values":[0,10,20,30,40,50],"title":"Time (minutes)"}},
    "y":{"field":"p","type":"quantitative","scale":{"domain":[0,200],"nice":false},"axis":{"values":[0,50,100,150,200],"title":"Plasmin (nM)","titleX":-92}},
    "color":{"field":"s","type":"nominal","scale":{"domain":["0","1.5","3.9","7.9","15.8","31.7","49.2"],"range":["#111111","#808080","#f5aaa9","#f08c8b","#f29d9c","#e8141b","#a30d0d"]},
      "legend":{"orient":"none","legendX":355,"legendY":-3,"title":"TXA (µg/mL)","titleFont":"Liberation Sans","titleFontSize":26,"titleFontWeight":"normal","titleColor":"#000","titlePadding":19,"labelFont":"Liberation Sans","labelFontSize":26,"labelColor":"#000","symbolType":"stroke","symbolSize":900,"symbolStrokeWidth":3,"symbolOffset":71,"labelOffset":10,"rowPadding":0,"padding":0}}
   }
  },
  {"width":430,"height":286,
   "title":{"text":"E","dx":-98},
   "encoding":{
    "x":{"field":"x","type":"quantitative","scale":{"domain":[0,50],"nice":false},"axis":{"values":[0,10,20,30,40,50],"title":"TXA (µg/mL)"}},
    "y":{"field":"y","type":"quantitative","scale":{"domain":[0,25],"nice":false},"axis":{"values":[0,5,10,15,20,25],"title":"TtPeak (minutes)","titleX":-78}}
   },
   "layer":[
    {"data":{"name":"curveE"},"mark":{"type":"line","color":"#000","strokeWidth":2.5,"interpolate":"monotone"}},
    {"data":{"name":"ptsE"},"transform":[{"filter":"isValid(datum.lo)"}],"mark":{"type":"errorbar","ticks":true,"size":17,"thickness":3,"color":"#e8141b"},"encoding":{"y":{"field":"lo","type":"quantitative","scale":{"domain":[0,25],"nice":false},"title":"TtPeak (minutes)"},"y2":{"field":"hi"}}},
    {"data":{"name":"ptsE"},"mark":{"type":"point","filled":true,"size":150,"color":"#e8141b","opacity":1}},
    {"data":{"name":"starsE"},"mark":{"type":"text","fontSize":26,"dy":15,"baseline":"alphabetic","align":"center","color":"#000"},"encoding":{"text":{"field":"t"}}}
   ]
  },
  {"width":430,"height":289,
   "title":{"text":"G","dx":-98},
   "encoding":{
    "x":{"field":"x","type":"quantitative","scale":{"domain":[0,50],"nice":false},"axis":{"values":[0,10,20,30,40,50],"title":"TXA (µg/mL)"}},
    "y":{"field":"y","type":"quantitative","scale":{"domain":[0,200],"nice":false},"axis":{"values":[0,50,100,150,200],"title":"Peak (nM)","titleX":-92}}
   },
   "layer":[
    {"data":{"name":"curveG"},"mark":{"type":"line","color":"#000","strokeWidth":2.5,"interpolate":"monotone"}},
    {"data":{"name":"ptsG"},"transform":[{"filter":"isValid(datum.lo)"}],"mark":{"type":"errorbar","ticks":true,"size":17,"thickness":3,"color":"#e8141b"},"encoding":{"y":{"field":"lo","type":"quantitative","scale":{"domain":[0,200],"nice":false},"title":"Peak (nM)"},"y2":{"field":"hi"}}},
    {"data":{"name":"ptsG"},"mark":{"type":"point","filled":true,"size":150,"color":"#e8141b","opacity":1}},
    {"data":{"name":"starsG"},"mark":{"type":"text","fontSize":26,"dy":15,"baseline":"alphabetic","align":"center","color":"#000"},"encoding":{"text":{"field":"t"}}}
   ]
  }
  ]}
 ]},
{"bounds":"flush","spacing":154,
 "vconcat":[
 {"width":437,"height":289,
  "title":{"text":"B","dx":-98},
  "encoding":{
   "x":{"field":"x","type":"quantitative","scale":{"domain":[0,50],"nice":false},"axis":{"values":[0,10,20,30,40,50],"title":"TXA (µg/mL)"}},
   "y":{"field":"y","type":"quantitative","scale":{"domain":[0,70],"nice":false},"axis":{"values":[0,10,20,30,40,50,60,70],"title":"Clot lysis time (minutes)","titleX":-80}}
  },
  "layer":[
   {"data":{"name":"curveB"},"mark":{"type":"line","color":"#000","strokeWidth":2.5,"interpolate":"monotone"}},
   {"data":{"name":"ptsB"},"transform":[{"filter":"isValid(datum.lo)"}],"mark":{"type":"errorbar","ticks":true,"size":17,"thickness":3,"color":"#e8141b"},"encoding":{"y":{"field":"lo","type":"quantitative","scale":{"domain":[0,70],"nice":false},"title":"Clot lysis time (minutes)"},"y2":{"field":"hi"}}},
   {"data":{"name":"ptsB"},"mark":{"type":"point","filled":true,"size":150,"color":"#e8141b","opacity":1}},
   {"data":{"name":"starsB"},"mark":{"type":"text","fontSize":26,"dy":15,"baseline":"alphabetic","align":"center","color":"#000"},"encoding":{"text":{"field":"t"}}}
  ]
 },
 {"bounds":"flush","spacing":177,
  "vconcat":[
  {"width":437,"height":289,
   "title":{"text":"D","dx":-98,"dy":21},
   "encoding":{
    "x":{"field":"x","type":"quantitative","scale":{"domain":[0,50],"nice":false},"axis":{"values":[0,10,20,30,40,50],"title":"TXA (µg/mL)"}},
    "y":{"field":"y","type":"quantitative","scale":{"domain":[0,12],"nice":false},"axis":{"values":[0,2,4,6,8,10,12],"title":"Lagtime (minutes)","titleX":-79}}
   },
   "layer":[
    {"data":{"name":"curveD"},"mark":{"type":"line","color":"#000","strokeWidth":2.5}},
    {"data":{"name":"ptsD"},"transform":[{"filter":"isValid(datum.lo)"}],"mark":{"type":"errorbar","ticks":true,"size":17,"thickness":3,"color":"#e8141b"},"encoding":{"y":{"field":"lo","type":"quantitative","scale":{"domain":[0,12],"nice":false},"title":"Lagtime (minutes)"},"y2":{"field":"hi"}}},
    {"data":{"name":"ptsD"},"mark":{"type":"point","filled":true,"size":150,"color":"#e8141b","opacity":1}},
    {"data":{"name":"starsD"},"mark":{"type":"text","fontSize":26,"dy":15,"baseline":"alphabetic","align":"center","color":"#000"},"encoding":{"text":{"field":"t"}}}
   ]
  },
  {"bounds":"flush","spacing":160,
   "vconcat":[
   {"width":437,"height":289,
    "title":{"text":"F","dx":-98},
    "encoding":{
     "x":{"field":"x","type":"quantitative","scale":{"domain":[0,50],"nice":false},"axis":{"values":[0,10,20,30,40,50],"title":"TXA (µg/mL)"}},
     "y":{"field":"y","type":"quantitative","scale":{"domain":[0,80],"nice":false},"axis":{"values":[0,20,40,60,80],"title":"Velocity (nM/minutes)","titleX":-83}}
    },
    "layer":[
     {"data":{"name":"curveF"},"mark":{"type":"line","color":"#000","strokeWidth":2.5,"interpolate":"monotone"}},
     {"data":{"name":"ptsF"},"transform":[{"filter":"isValid(datum.lo)"}],"mark":{"type":"errorbar","ticks":true,"size":17,"thickness":3,"color":"#e8141b"},"encoding":{"y":{"field":"lo","type":"quantitative","scale":{"domain":[0,80],"nice":false},"title":"Velocity (nM/minutes)"},"y2":{"field":"hi"}}},
     {"data":{"name":"ptsF"},"mark":{"type":"point","filled":true,"size":150,"color":"#e8141b","opacity":1}},
     {"data":{"name":"starsF"},"mark":{"type":"text","fontSize":26,"dy":15,"baseline":"alphabetic","align":"center","color":"#000"},"encoding":{"text":{"field":"t"}}}
    ]
   },
   {"width":437,"height":289,
    "title":{"text":"H","dx":-98},
    "encoding":{
     "x":{"field":"x","type":"quantitative","scale":{"domain":[0,50],"nice":false},"axis":{"values":[0,10,20,30,40,50],"title":"TXA (µg/mL)"}},
     "y":{"field":"y","type":"quantitative","scale":{"domain":[0,1500],"nice":false},"axis":{"values":[0,500,1000,1500],"format":"d","title":"EPP (nM·minute)","titleX":-113}}
    },
    "layer":[
     {"data":{"name":"curveH"},"mark":{"type":"line","color":"#000","strokeWidth":2.5,"interpolate":"monotone"}},
     {"data":{"name":"ptsH"},"transform":[{"filter":"isValid(datum.lo)"}],"mark":{"type":"errorbar","ticks":true,"size":17,"thickness":3,"color":"#e8141b"},"encoding":{"y":{"field":"lo","type":"quantitative","scale":{"domain":[0,1500],"nice":false},"title":"EPP (nM·minute)"},"y2":{"field":"hi"}}},
     {"data":{"name":"ptsH"},"mark":{"type":"point","filled":true,"size":150,"color":"#e8141b","opacity":1}},
     {"data":{"name":"starsH"},"mark":{"type":"text","fontSize":26,"dy":15,"baseline":"alphabetic","align":"center","color":"#000"},"encoding":{"text":{"field":"t"}}}
    ]
   }
   ]}
  ]}
 ]}
]
}
